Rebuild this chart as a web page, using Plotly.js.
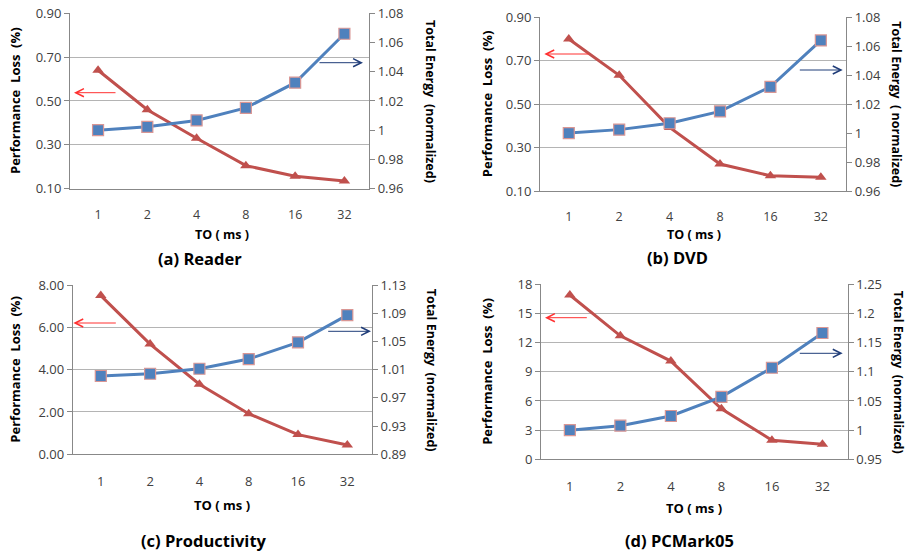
<!DOCTYPE html>
<html><head><meta charset="utf-8">
<script src="https://cdn.plot.ly/plotly-3.0.1.min.js"></script>
<style>html,body{margin:0;padding:0;background:#fff}#c{width:911px;height:553px}</style>
</head><body><div id="c"></div>
<script>
var categories = ['1','2','4','8','16','32'];
var xTitle = 'TO\u00a0(\u00a0ms\u00a0)';
var leftTitle = 'Performance\u00a0\u00a0Loss\u00a0\u00a0(%)';
var rightTitles = ['Total Energy\u00a0\u00a0(normalized)','Total Energy\u00a0\u00a0(\u00a0normalized)','Total Energy\u00a0\u00a0(normalized)','Total Energy\u00a0\u00a0(normalized)'];
var captions = ['(a) Reader','(b) DVD','(c) Productivity','(d) PCMark05'];

var lossReader = [0.64, 0.46, 0.33, 0.205, 0.157, 0.135];
var energyReader = [1.000, 1.0023, 1.0067, 1.0153, 1.0325, 1.066];
var lossDVD = [0.80, 0.633, 0.393, 0.224, 0.170, 0.163];
var energyDVD = [1.000, 1.0024, 1.0068, 1.015, 1.032, 1.064];
var lossProd = [7.50, 5.21, 3.31, 1.92, 0.93, 0.44];
var energyProd = [1.001, 1.0042, 1.0113, 1.025, 1.0487, 1.0874];
var lossPC = [16.9, 12.7, 10.1, 5.2, 1.96, 1.54];
var energyPC = [1.000, 1.0077, 1.0243, 1.057, 1.107, 1.1665];

var leftTicksA = [0.10,0.30,0.50,0.70,0.90];
var leftTextA = ['0.10','0.30','0.50','0.70','0.90'];
var rightTicksA = [0.96,0.98,1.00,1.02,1.04,1.06,1.08];
var rightTextA = ['0.96','0.98','1','1.02','1.04','1.06','1.08'];
var leftTicksC = [0,2,4,6,8];
var leftTextC = ['0.00','2.00','4.00','6.00','8.00'];
var rightTicksC = [0.89,0.93,0.97,1.01,1.05,1.09,1.13];
var rightTextC = ['0.89','0.93','0.97','1.01','1.05','1.09','1.13'];
var leftTicksD = [0,3,6,9,12,15,18];
var leftTextD = ['0','3','6','9','12','15','18'];
var rightTicksD = [0.95,1.00,1.05,1.10,1.15,1.20,1.25];
var rightTextD = ['0.95','1','1.05','1.1','1.15','1.2','1.25'];

var panels = [
 {loss:lossReader, energy:energyReader, lt:leftTicksA, ltt:leftTextA, rt:rightTicksA, rtt:rightTextA, xd:[0.0768,0.4051], yd:[0.6588,0.976]},
 {loss:lossDVD, energy:energyDVD, lt:leftTicksA, ltt:leftTextA, rt:rightTicksA, rtt:rightTextA, xd:[0.5928,0.9287], yd:[0.6546,0.9687]},
 {loss:lossProd, energy:energyProd, lt:leftTicksC, ltt:leftTextC, rt:rightTicksC, rtt:rightTextC, xd:[0.0798,0.4083], yd:[0.1785,0.4846]},
 {loss:lossPC, energy:energyPC, lt:leftTicksD, ltt:leftTextD, rt:rightTicksD, rtt:rightTextD, xd:[0.5939,0.9305], yd:[0.1694,0.4859]}
];

var FONT = 'Open Sans, DejaVu Sans, sans-serif';
var RED = '#c0504d', BLUE = '#4f81bd';
var data = [];
var layout = {
  width:911, height:553, margin:{l:0,r:0,t:0,b:0},
  paper_bgcolor:'#fff', plot_bgcolor:'rgba(0,0,0,0)', showlegend:false,
  font:{family:FONT, size:13, color:'#404040'},
  annotations:[]
};

panels.forEach(function(p, i){
  var xn = i+1, yl = 2*i+1, yr = 2*i+2;
  var xk = 'xaxis'+(xn===1?'':xn), xr = 'x'+(xn===1?'':xn);
  var ylk = 'yaxis'+(yl===1?'':yl), ylr = 'y'+(yl===1?'':yl);
  var yrk = 'yaxis'+yr, yrr = 'y'+yr;
  data.push({x:categories, y:p.loss, xaxis:xr, yaxis:ylr, type:'scatter', mode:'lines+markers',
    line:{color:RED, width:3}, marker:{symbol:'triangle-up', size:10, color:RED}, cliponaxis:false});
  data.push({x:categories, y:p.energy, xaxis:xr, yaxis:yrr, type:'scatter', mode:'lines+markers',
    line:{color:BLUE, width:3}, marker:{symbol:'square', size:11, color:BLUE, line:{color:'#d99694', width:1.2}}, cliponaxis:false});
  var lmin = p.lt[0], lmax = p.lt[p.lt.length-1];
  var rmin = p.rt[0], rmax = p.rt[p.rt.length-1];
  layout[xk] = {domain:p.xd, anchor:ylr, type:'category', range:[-0.57,5.5], showgrid:false, zeroline:false,
    showline:true, linecolor:'#888', linewidth:1, ticks:'outside', ticklen:(i<2?14:15), tickcolor:'rgba(0,0,0,0)',
    tickfont:{size:(i<2?12.5:13), color:'#404040'}, fixedrange:true};
  layout[ylk] = {domain:p.yd, anchor:xr, range:[lmin,lmax], tickvals:p.lt, ticktext:p.ltt, showgrid:true,
    gridcolor:'#b4b4b4', gridwidth:1, zeroline:false, showline:true, linecolor:'#888', ticks:'outside', ticklen:5,
    tickcolor:'#888', tickfont:{size:13, color:'#404040'}, fixedrange:true};
  layout[yrk] = {overlaying:ylr, side:'right', anchor:xr, range:[rmin,rmax], tickvals:p.rt, ticktext:p.rtt,
    showgrid:false, zeroline:false, showline:true, linecolor:'#888', ticks:'outside', ticklen:5, tickcolor:'#888',
    tickfont:{size:13, color:'#404040'}, fixedrange:true};
  var yc = (p.yd[0]+p.yd[1])/2;
  var xt = [221.7/911, 694.3/911, 221.7/911, 694.3/911][i];
  var xty = [234, 234, 505, 508.3][i];
  var cx = [200, 677.7, 204, 679][i], cy = [258, 257.7, 540.7, 540.7][i];
  layout.annotations.push({xref:'paper', yref:'paper', x:xt, y:1-xty/553, text:'<b>'+xTitle+'</b>', showarrow:false,
    font:{size:(i<2?12.5:13), color:'#000'}, xanchor:'center', yanchor:'middle'});
  layout.annotations.push({xref:'paper', yref:'paper', x:cx/911, y:1-cy/553, text:'<b>'+captions[i]+'</b>', showarrow:false,
    font:{size:16.5, color:'#000'}, xanchor:'center', yanchor:'middle'});
  var lx = [15, 487, 15, 487][i], rx = [430, 897, 431, 898][i];
  layout.annotations.push({xref:'paper', yref:'paper', x:lx/911, y:yc, text:'<b>'+leftTitle+'</b>', showarrow:false,
    textangle:-90, font:{size:13, color:'#000'}, xanchor:'center', yanchor:'middle'});
  layout.annotations.push({xref:'paper', yref:'paper', x:rx/911, y:yc, text:'<b>'+rightTitles[i]+'</b>', showarrow:false,
    textangle:90, font:{size:12.5, color:'#000'}, xanchor:'center', yanchor:'middle'});
  var ra = [[117,74,92.7],[590,544.3,54],[117.3,73.3,323],[588.3,545,317.7]][i];
  var ba = [[318,363,62.7],[798.3,842.7,70],[326.7,371,331.3],[798.3,842.7,353.3]][i];
  layout.annotations.push({xref:'paper', yref:'paper', x:ra[1]/911, y:1-ra[2]/553, ax:ra[0]-ra[1], ay:0, text:'',
    showarrow:true, arrowhead:5, arrowsize:1.6, arrowwidth:1, arrowcolor:'#ff3030', standoff:0});
  layout.annotations.push({xref:'paper', yref:'paper', x:ba[1]/911, y:1-ba[2]/553, ax:ba[0]-ba[1], ay:0, text:'',
    showarrow:true, arrowhead:5, arrowsize:1.6, arrowwidth:1, arrowcolor:'#1f3c78', standoff:0});
});

Plotly.newPlot('c', data, layout, {displayModeBar:false, staticPlot:true});
</script></body></html>
